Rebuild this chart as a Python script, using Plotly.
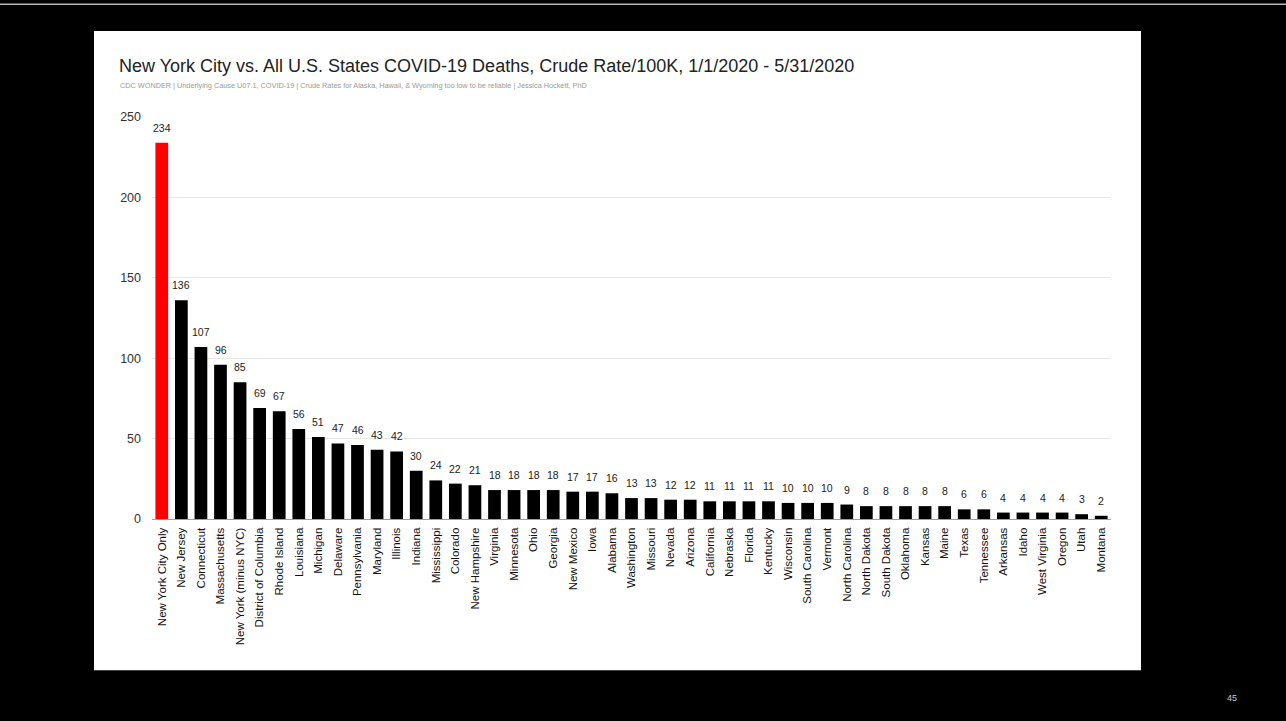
import plotly.graph_objects as go

categories = [
    "New York City Only", "New Jersey", "Connecticut", "Massachusetts", "New York (minus NYC)",
    "District of Columbia", "Rhode Island", "Louisiana", "Michigan", "Delaware", "Pennsylvania",
    "Maryland", "Illinois", "Indiana", "Mississippi", "Colorado", "New Hampshire", "Virginia",
    "Minnesota", "Ohio", "Georgia", "New Mexico", "Iowa", "Alabama", "Washington", "Missouri",
    "Nevada", "Arizona", "California", "Nebraska", "Florida", "Kentucky", "Wisconsin",
    "South Carolina", "Vermont", "North Carolina", "North Dakota", "South Dakota", "Oklahoma",
    "Kansas", "Maine", "Texas", "Tennessee", "Arkansas", "Idaho", "West Virginia", "Oregon",
    "Utah", "Montana",
]
values = [
    234, 136, 107, 96, 85, 69, 67, 56, 51, 47, 46, 43, 42, 30, 24, 22, 21, 18, 18, 18, 18, 17,
    17, 16, 13, 13, 12, 12, 11, 11, 11, 11, 10, 10, 10, 9, 8, 8, 8, 8, 8, 6, 6, 4, 4, 4, 4, 3, 2,
]
highlight = "New York City Only"
y_ticks = [0, 50, 100, 150, 200, 250]

title_text = "New York City vs. All U.S. States COVID-19 Deaths, Crude Rate/100K, 1/1/2020 - 5/31/2020"
subtitle_text = ("CDC WONDER | Underlying Cause U07.1, COVID-19 | Crude Rates for Alaska, Hawaii, "
                 "& Wyoming too low to be reliable | Jessica Hockett, PhD")
page_number = "45"

FONT = "Liberation Sans, Arial, Helvetica, sans-serif"
colors = ["#ff0000" if c == highlight else "#000000" for c in categories]

# plot area in pixels
L, R, T, B = 152, 1111, 117, 519.5
W, H = R - L, B - T


def px(x):
    return (x - L) / W


def py(y):
    return (B - y) / H


fig = go.Figure(
    go.Bar(
        x=categories,
        y=values,
        marker=dict(color=colors, line=dict(width=0)),
        hoverinfo="x+y",
    )
)

value_labels = [
    dict(x=c, y=v, text=str(v), xref="x", yref="y", showarrow=False,
         yanchor="middle", xanchor="center", yshift=15,
         font=dict(size=10.5, color="#222222", family=FONT))
    for c, v in zip(categories, values)
]

fig.update_layout(
    width=1286,
    height=721,
    paper_bgcolor="#000000",
    plot_bgcolor="#ffffff",
    margin=dict(l=L, r=1286 - R, t=T, b=721 - B, pad=0),
    bargap=0.35,
    showlegend=False,
    font=dict(family=FONT),
    shapes=[
        dict(type="rect", xref="paper", yref="paper",
             x0=px(94), x1=px(1141), y0=py(671), y1=py(31),
             fillcolor="#ffffff", line=dict(width=0), layer="below"),
        dict(type="line", xref="paper", yref="paper",
             x0=px(0), x1=px(1286), y0=py(4), y1=py(4),
             line=dict(color="#b5b5b5", width=1.5)),
    ],
    annotations=value_labels + [
        dict(text=title_text, xref="paper", yref="paper", x=px(117), y=py(66),
             xanchor="left", yanchor="middle", showarrow=False,
             font=dict(size=18, color="#222222", family=FONT)),
        dict(text=subtitle_text, xref="paper", yref="paper", x=px(118), y=py(85),
             xanchor="left", yanchor="middle", showarrow=False,
             font=dict(size=7.3, color="#9a9a9a", family=FONT)),
        dict(text=page_number, xref="paper", yref="paper", x=px(1232), y=py(699),
             xanchor="center", yanchor="middle", showarrow=False,
             font=dict(size=9, color="#cccccc", family=FONT)),
    ],
)

fig.update_xaxes(
    tickangle=-90,
    tickfont=dict(size=11.5, color="#111111"),
    showgrid=False,
    showline=True,
    linecolor="#9e9e9e",
    linewidth=1.2,
    ticks="",
    ticklabelstandoff=3,
    range=[-0.5, len(categories) - 0.5],
)
fig.update_yaxes(
    range=[0, 250],
    tickvals=y_ticks,
    ticktext=[str(t) for t in y_ticks],
    tickfont=dict(size=12.5, color="#333333"),
    showgrid=True,
    gridcolor="#e6e6e6",
    gridwidth=1,
    zeroline=False,
    showline=False,
    ticks="",
    ticklabelstandoff=10,
)

fig.write_html(
    "out.html",
    config={"displayModeBar": False},
    post_script="document.body.style.margin='0';document.body.style.background='#000';",
)
